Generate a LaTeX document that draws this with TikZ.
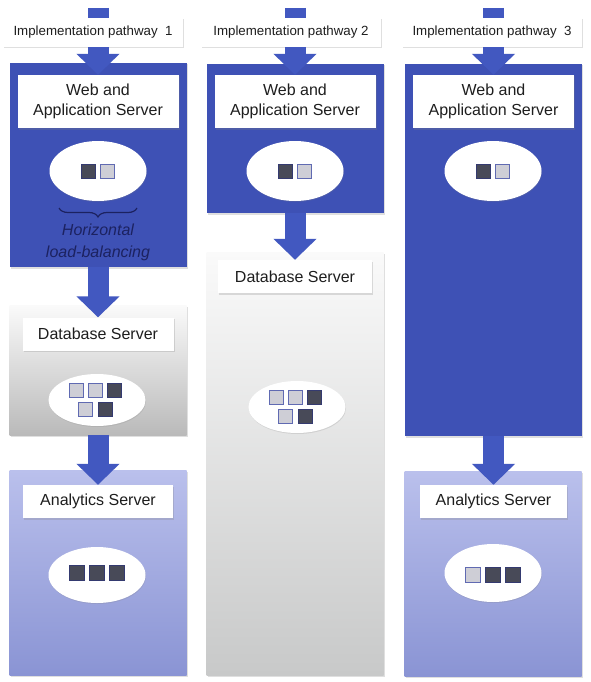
\documentclass[tikz,border=0pt]{standalone}
\usepackage{fontspec}
\setmainfont{Liberation Sans}
\usetikzlibrary{arrows.meta,shapes.geometric,shadows,calc,decorations.pathreplacing}
\definecolor{boxblue}{RGB}{62,81,181}
\definecolor{flowblue}{RGB}{66,88,192}
\definecolor{dbtop}{RGB}{250,250,250}
\definecolor{dbbot}{RGB}{186,186,186}
\definecolor{dbbotb}{RGB}{200,201,201}
\definecolor{antop}{RGB}{186,192,236}
\definecolor{anbot}{RGB}{138,148,212}
\definecolor{txt}{RGB}{30,30,30}
\definecolor{navy}{RGB}{28,34,96}
\definecolor{sqd}{RGB}{72,74,88}
\definecolor{sql}{RGB}{206,206,214}
\definecolor{sqbd}{RGB}{52,58,112}
\definecolor{sqbl}{RGB}{96,106,178}
\begin{document}
\begin{tikzpicture}[x=1pt, y=-1pt,
    shade/.style={drop shadow={shadow xshift=1pt, shadow yshift=-1.5pt, opacity=.25}},
    flow/.style={line width=21pt, draw=flowblue, -{Triangle[width=42pt,length=21pt]}},
    stub/.style={line width=21pt, draw=flowblue},
    pathbox/.style={shade, fill=white, minimum width=180pt, minimum height=29pt, inner sep=0pt, text=txt, font=\fontsize{13.3}{15}\selectfont},
    appbox/.style={shade, fill=boxblue, minimum width=177pt, inner sep=0pt},
    dbbox/.style={shade, top color=dbtop, bottom color=#1, minimum width=177pt, inner sep=0pt},
    anbox/.style={shade, top color=antop, bottom color=anbot, minimum width=177pt, minimum height=205pt, inner sep=0pt},
    title/.style={shade, fill=white, minimum width=161pt, minimum height=53pt, inner sep=0pt, align=center, text=txt, font=\fontsize{16}{20}\selectfont},
    subtitle/.style={shade, fill=white, minimum height=33pt, inner sep=0pt, text=txt, font=\fontsize{16}{19}\selectfont},
    disc/.style={ellipse, fill=white, minimum width=97pt, inner sep=0pt, drop shadow={shadow xshift=.5pt, shadow yshift=-1pt, opacity=.2}},
    sq/.style={minimum size=14pt, inner sep=0pt, line width=1pt},
    brace/.style={decorate, decoration={brace, mirror, amplitude=9pt}, draw=navy, line width=1.2pt}]
\useasboundingbox (0,0) rectangle (591,682);

% column boxes
\node[appbox, minimum height=204pt] (app1) at (98,165) {};
\node[appbox, minimum height=149pt] (app2) at (295,138.5) {};
\node[appbox, minimum height=372pt] (app3) at (493.5,250) {};
\node[dbbox=dbbot, minimum height=130pt] (db1) at (98,370) {};
\node[dbbox=dbbotb, minimum height=423pt] (db2) at (295,463.5) {};
\node[anbox] (an1) at (98,572.5) {};
\node[anbox] (an3) at (493,573.5) {};

% pathway labels
\foreach \i/\lx/\cx/\t in {1/93/98/{Implementation pathway~ 1}, 2/291/295/{Implementation pathway 2}, 3/492/493/{Implementation pathway~ 3}}
{
    \node[pathbox] (lab\i) at (\lx,32.5) {\t};
    \coordinate (top\i) at (\cx,8);
    \draw[stub] (top\i) -- (top\i |- lab\i.north);
}

% web and application servers
\node[title] (web1) at (98,101.5) {Web and\\Application Server};
\node[title] (web2) at (295,101.5) {Web and\\Application Server};
\node[title] (web3) at (493.5,101.5) {Web and\\Application Server};
\node[disc, minimum height=60pt] (el1) at (98,171) {};
\node[disc, minimum height=60pt] (el2) at (295,171) {};
\node[disc, minimum height=60pt] (el3) at (493,171) {};
\foreach \e in {1,2,3}
{
    \node[sq, fill=sqd, draw=sqbd] (el\e a) at ($(el\e)+(-10,0)$) {};
    \node[sq, fill=sql, draw=sqbl] (el\e b) at ($(el\e)+(9.5,0)$) {};
}
\draw[brace] (59,208) -- (137,208);
\node[align=center, text=navy, font=\fontsize{16}{22}\itshape] (hlb) at (98,242) {Horizontal\\load-balancing};

% database servers
\node[subtitle, minimum width=151pt] (dbt1) at (98,334) {Database Server};
\node[subtitle, minimum width=154pt] (dbt2) at (295,276.5) {Database Server};
\node[disc, minimum height=52pt] (dbe1) at (97,400) {};
\node[disc, minimum height=52pt] (dbe2) at (297,407) {};
\foreach \e in {1,2}
{
    \foreach \dx/\dy/\f [count=\k] in {-21/-10/l, -2/-10/l, 17/-10/d, -11.5/9/l, 8/9/d}
        \node[sq, fill=sq\f, draw=sqb\f] (dbe\e s\k) at ($(dbe\e)+(\dx,\dy)$) {};
}

% analytics servers
\node[subtitle, minimum width=150pt] (ant1) at (98,501.5) {Analytics Server};
\node[subtitle, minimum width=147pt] (ant3) at (493.5,501.5) {Analytics Server};
\node[disc, minimum height=56pt] (ane1) at (97,575) {};
\node[disc, minimum height=58pt] (ane3) at (493,573) {};
\foreach \dx/\f [count=\k] in {-20/d, 0/d, 20/d}
    \node[sq, minimum size=15pt, fill=sq\f, draw=sqb\f] (ane1s\k) at ($(ane1)+(\dx,-2)$) {};
\foreach \dx/\f [count=\k] in {-20/l, 0/d, 20/d}
    \node[sq, minimum size=15pt, fill=sq\f, draw=sqb\f] (ane3s\k) at ($(ane3)+(\dx,1.5)$) {};

% arrows
\draw[flow] (lab1.south -| web1.north) -- (web1.north);
\draw[flow] (lab2.south -| web2.north) -- (web2.north);
\draw[flow] (lab3.south -| web3.north) -- (web3.north);
\draw[flow] (app1.south) -- (dbt1.north);
\draw[flow] (db1.south) -- (ant1.north);
\draw[flow] (app2.south) -- (dbt2.north);
\draw[flow] (app3.south) -- (ant3.north);
\end{tikzpicture}
\end{document}
